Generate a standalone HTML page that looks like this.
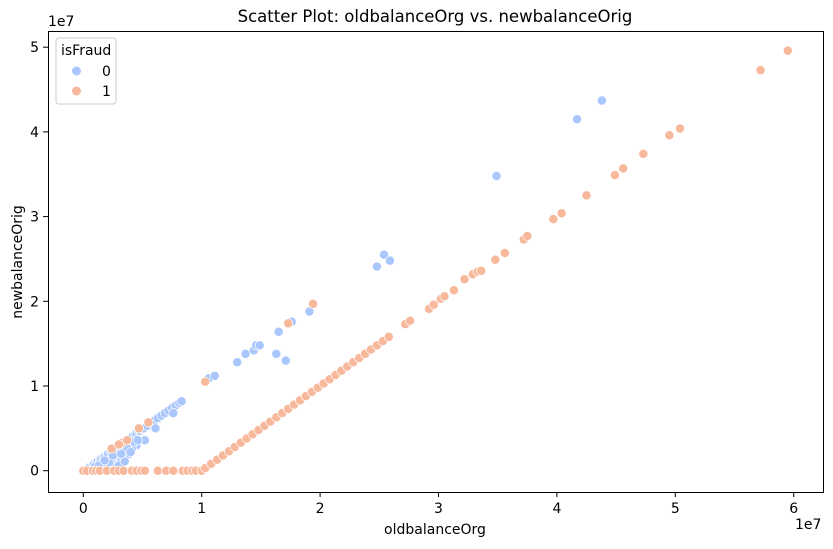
<!DOCTYPE html>
<html><head><meta charset="utf-8"><style>
body{margin:0;background:#fff;font-family:"DejaVu Sans","Liberation Sans",sans-serif}
text{font-family:"DejaVu Sans","Liberation Sans",sans-serif;fill:#000}
</style></head><body>
<svg id="chart" width="833" height="545">
<rect width="833" height="545" fill="#fff"/>
<text x="435" y="22" font-size="16.5" text-anchor="middle">Scatter Plot: oldbalanceOrg vs. newbalanceOrig</text>
<g id="points"></g>
<rect x="48.5" y="31.5" width="775" height="461" fill="none" stroke="#000" stroke-width="1"/>
<g id="xticks"></g>
<g id="yticks"></g>
<text x="795" y="529" font-size="14">1e7</text>
<text x="48" y="26" font-size="14">1e7</text>
<text x="435" y="534" font-size="14" text-anchor="middle">oldbalanceOrg</text>
<text transform="translate(22,262) rotate(-90)" font-size="14" text-anchor="middle">newbalanceOrig</text>
<g>
<rect x="56" y="38" width="60" height="66" rx="3" fill="#fff" fill-opacity="0.8" stroke="#ccc"/>
<text x="61" y="55" font-size="14">isFraud</text>
<circle cx="76.5" cy="71" r="4.5" fill="#aac7fd"/>
<text x="102" y="76" font-size="14">0</text>
<circle cx="76.5" cy="91" r="4.5" fill="#f7b89c"/>
<text x="102" y="96" font-size="14">1</text>
</g>
</svg>
<script>
// values in millions
const xTicks=[0,1,2,3,4,5,6];
const yTicks=[0,1,2,3,4,5];
const blueX=[0.3,0.5,0.6,0.8,0.9,1.1,1.2,1.4,1.5,1.7,1.8,2.0,2.1,2.3,2.4,2.6,2.7,2.9,3.0,3.2,3.3,3.5,3.6,3.8,3.9,4.1,4.2,4.4,4.5,4.7,4.8,5.0,5.1,5.4,5.7,6.0,6.3,6.6,6.9,7.2,7.5,7.8,8.1,8.3,1.5,2.2,2.8,3.4,3.9,4.5,5.2,6.1,7.6,2.0,3.1,4.1,2.6,3.6,0.8,1.9,1.0,1.6,2.4,2.9,3.3,3.7,4.3,2.2,3.0,3.5,4.0,1.3,1.8,2.5,3.2,4.6,10.6,11.1,13.0,13.7,14.4,14.6,14.9,16.5,16.3,17.1,17.6,19.1,24.8,25.4,25.9,34.9,41.7,43.8];
const blueY=[0.2,0.4,0.5,0.7,0.8,1.0,1.1,1.3,1.4,1.6,1.7,1.9,2.0,2.2,2.3,2.5,2.6,2.8,2.9,3.1,3.2,3.4,3.5,3.7,3.8,4.0,4.1,4.3,4.4,4.6,4.7,4.9,5.0,5.3,5.6,5.9,6.2,6.5,6.8,7.1,7.4,7.7,8.0,8.2,0.5,0.8,1.2,1.5,2.0,3.0,3.6,5.0,6.8,0.2,1.6,2.6,0.4,3.0,0.1,0.3,0.5,0.9,1.4,1.9,2.3,2.7,3.4,1.0,0.6,1.1,2.2,0.6,1.2,1.8,2.0,3.6,10.9,11.2,12.8,13.8,14.2,14.8,14.8,16.4,13.8,13.0,17.6,18.8,24.1,25.5,24.8,34.8,41.5,43.7];
const orangeX=[0,0.3,0.8,1.1,1.4,2.0,2.6,3.0,3.4,4.1,4.5,4.9,5.2,6.3,7.0,7.6,8.4,8.8,9.2,9.5,10.0,10.3,10.8,11.3,11.8,12.3,12.8,13.3,13.8,14.3,14.8,15.3,15.8,16.3,16.8,17.3,17.8,18.3,18.8,19.3,19.8,20.3,20.8,21.3,21.8,22.3,22.8,23.3,23.8,24.3,24.8,25.3,25.8,27.2,27.6,29.2,29.6,30.2,30.5,31.3,32.2,32.9,33.3,33.6,34.8,35.6,37.2,37.5,39.7,40.4,42.5,44.9,45.6,47.3,49.5,50.4,57.2,59.5,10.3,17.3,19.4,2.4,3.3,4.7,5.5,3.7,3.0];
const orangeY=[0,0,0,0,0,0,0,0,0,0,0,0,0,0,0,0,0,0,0,0,0,0.3,0.8,1.3,1.8,2.3,2.8,3.3,3.8,4.3,4.8,5.3,5.8,6.3,6.8,7.3,7.8,8.3,8.8,9.3,9.8,10.3,10.8,11.3,11.8,12.3,12.8,13.3,13.8,14.3,14.8,15.3,15.8,17.3,17.7,19.1,19.6,20.3,20.6,21.3,22.6,23.2,23.5,23.6,24.9,25.7,27.3,27.7,29.7,30.4,32.5,34.9,35.7,37.4,39.6,40.4,47.3,49.6,10.5,17.4,19.7,2.6,3.3,5.0,5.7,3.6,3.1];
const sx=v=>83.3+v*11.84, sy=v=>470.7-v*8.47;
const NS='http://www.w3.org/2000/svg';
const pts=document.getElementById('points');
function dot(x,y,c,n){const el=document.createElementNS(NS,'circle');el.setAttribute('cx',sx(x));el.setAttribute('cy',sy(y));el.setAttribute('r',4.6);el.setAttribute('fill',c);el.setAttribute('stroke','#fff');el.setAttribute('stroke-width','0.7');


pts.appendChild(el);}
blueX.forEach((x,i)=>dot(x,blueY[i],'#aac7fd','point-isfraud-0'));
orangeX.forEach((x,i)=>dot(x,orangeY[i],'#f7b89c','point-isfraud-1'));
const xg=document.getElementById('xticks'),yg=document.getElementById('yticks');
xTicks.forEach(t=>{const X=sx(t*10);const l=document.createElementNS(NS,'line');l.setAttribute('x1',X);l.setAttribute('x2',X);l.setAttribute('y1',492);l.setAttribute('y2',497);l.setAttribute('stroke','#000');xg.appendChild(l);
const tx=document.createElementNS(NS,'text');tx.setAttribute('x',X);tx.setAttribute('y',513);tx.setAttribute('font-size','14');tx.setAttribute('text-anchor','middle');tx.textContent=t;


xg.appendChild(tx);});
yTicks.forEach(t=>{const Y=sy(t*10);const l=document.createElementNS(NS,'line');l.setAttribute('x1',43);l.setAttribute('x2',48);l.setAttribute('y1',Y);l.setAttribute('y2',Y);l.setAttribute('stroke','#000');yg.appendChild(l);
const tx=document.createElementNS(NS,'text');tx.setAttribute('x',39);tx.setAttribute('y',Y+5);tx.setAttribute('font-size','14');tx.setAttribute('text-anchor','end');tx.textContent=t;


yg.appendChild(tx);});
</script>
</body></html>
